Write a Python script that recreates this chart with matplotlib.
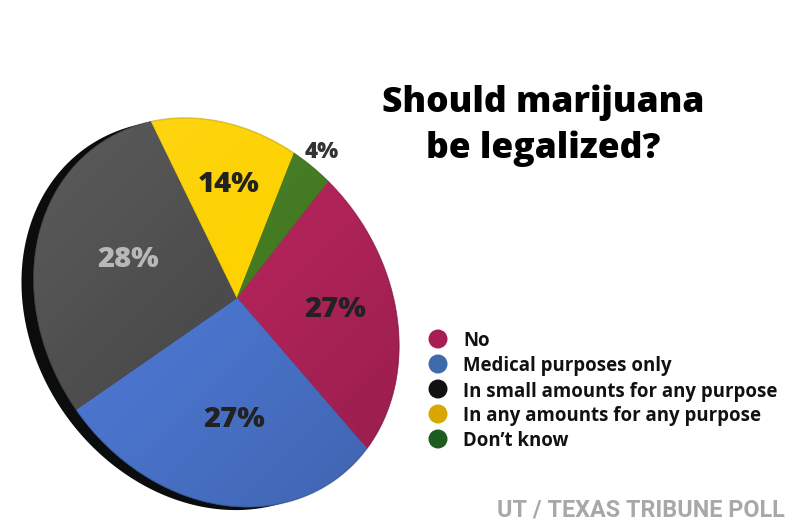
import numpy as np
import matplotlib
matplotlib.use('Agg')
import matplotlib.pyplot as plt
from matplotlib.patches import Polygon, Circle

labels = ['No', 'Medical purposes only', 'In small amounts for any purpose',
          'In any amounts for any purpose', 'Don\u2019t know']
shares = [27, 27, 28, 14, 4]

slice_colors = ['#b02359', '#4a74cc', '#4b4b4b', '#fdd200', '#437a22']
dot_colors = ['#a81d55', '#3c6aad', '#111111', '#d9a800', '#1e5b1f']
pct_colors = ['#222222', '#222222', '#b8b8b8', '#222222', '#333333']

fig = plt.figure(figsize=(8, 5.3), dpi=100)
ax = fig.add_axes([0, 0, 1, 1])

# unit circle -> pixels: the disc is tilted away from us towards the upper right
cx, cy = 237, 298
tilt_dir = np.radians(35)
minor_r, major_r = 167, 203
k = 0.148
R = np.array([[np.cos(tilt_dir), -np.sin(tilt_dir)],
              [np.sin(tilt_dir), np.cos(tilt_dir)]])
M = R @ np.diag([minor_r, major_r]) @ R.T

def tilt(x, y):
    x = np.asarray(x, float)
    y = np.asarray(y, float)
    w = 1 + k * (x * np.cos(tilt_dir) + y * np.sin(tilt_dir))
    px = M[0, 0] * x + M[0, 1] * y
    py = M[1, 0] * x + M[1, 1] * y
    return cx + px / w, cy - py / w

# matplotlib works out the wedges, then they are re-drawn tilted
tmp = fig.add_axes([0, 0, 0.1, 0.1])
wedges, _ = tmp.pie(shares, startangle=49.2, counterclock=False)
angles = [(w.theta1, w.theta2) for w in wedges]
tmp.remove()

t = np.linspace(0, 2 * np.pi, 500)
ox, oy = tilt(np.cos(t), np.sin(t))
ax.add_patch(Polygon(np.column_stack([ox - 12, oy + 3]), closed=True,
                     fc='#0b0c0e', ec='none', zorder=1))

for (a1, a2), col in zip(angles, slice_colors):
    th = np.radians(np.linspace(a1, a2, 150))
    px, py = tilt(np.concatenate([[0], np.cos(th)]), np.concatenate([[0], np.sin(th)]))
    ax.add_patch(Polygon(np.column_stack([px, py]), closed=True,
                         fc=col, ec=col, lw=0.4, zorder=2))

# soft light from the top left
outline = Polygon(np.column_stack([ox, oy]), closed=True, fc='none',
                  ec=(0, 0, 0, 0.12), lw=1.2, zorder=3)
ax.add_patch(outline)
x0, x1, y0, y1 = ox.min(), ox.max(), oy.min(), oy.max()
gx, gy = np.meshgrid(np.linspace(x0, x1, 200), np.linspace(y0, y1, 200))
g = ((gx - x0) + (gy - y0)) / ((x1 - x0) + (y1 - y0))
rgba = np.zeros((200, 200, 4))
light = g < 0.5
rgba[light, :3] = 1.0
rgba[light, 3] = (0.5 - g[light]) * 0.2
rgba[~light, 3] = (g[~light] - 0.5) * 0.3
im = ax.imshow(rgba, extent=(x0, x1, y1, y0), zorder=3, interpolation='bilinear')
im.set_clip_path(outline)

for (a1, a2), s, col in zip(angles, shares, pct_colors):
    mid = np.radians((a1 + a2) / 2)
    half = np.radians(a2 - a1) / 2
    d = 1.15 if s < 5 else 2 / 3 * np.sin(half) / half
    tx, ty = tilt(d * np.cos(mid), d * np.sin(mid))
    ax.text(tx, ty, f'{s}%', ha='center', va='center_baseline', color=col,
            fontsize=16 if s < 5 else 21, fontweight=800, family='Open Sans', zorder=4)

ax.text(543, 112, 'Should marijuana', ha='center', va='baseline',
        fontsize=25.5, fontweight=800, family='Open Sans', color='#000000')
ax.text(543, 158, 'be legalized?', ha='center', va='baseline',
        fontsize=25.5, fontweight=800, family='Open Sans', color='#000000')

for i, (lab, col) in enumerate(zip(labels, dot_colors)):
    y = 339 + 25 * i
    ax.add_patch(Circle((438, y), 9.5, fc=col, ec='none'))
    ax.text(463, y, lab, ha='left', va='center_baseline', fontsize=13.4,
            fontweight='bold', family='Open Sans', color='#111111')

ax.text(785, 517, 'UT / TEXAS TRIBUNE POLL', ha='right', va='baseline',
        fontsize=16.8, fontweight='bold', family='Roboto', color='#a8a8a8')

ax.set_xlim(0, 800)
ax.set_ylim(530, 0)
ax.axis('off')
fig.savefig('out.png', dpi=100)
